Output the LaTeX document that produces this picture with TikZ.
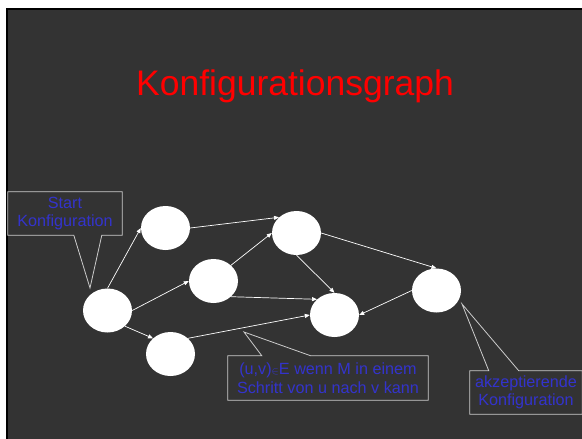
\documentclass[tikz,border=0pt]{standalone}
\usepackage{fontspec}
\setmainfont{Liberation Sans}
\usepackage{tikz}
\usetikzlibrary{arrows.meta,positioning,shapes.geometric,calc}
\definecolor{slidegray}{RGB}{51,51,51}
\definecolor{labelblue}{RGB}{51,51,204}
\definecolor{framegray}{RGB}{204,204,204}

\begin{document}
\begin{tikzpicture}[x=1pt,y=-1pt,
    konf/.style={ellipse,fill=white,inner sep=0pt,minimum width=49pt,minimum height=44pt},
    uebergang/.style={white,line width=0.7pt,-{Triangle[length=5pt,width=4pt]}},
    legende/.style={labelblue,align=center,inner sep=0pt,font=\fontsize{16.2}{18.5}\selectfont},
    rahmen/.style={framegray,line width=0.8pt,line join=miter}]
                \useasboundingbox (0,0) rectangle (582,439);
                \fill[white] (0,0) rectangle (582,439);
                \fill[black] (6,7.5) rectangle (582,439);
                \fill[slidegray] (8,10) rectangle (582,439);
                \node[red,font=\fontsize{35.5}{40}\selectfont,anchor=base] (titel) at (295,95) {Konfigurationsgraph};
                \node[konf] (K_0) at (107.5,310.5) {};
                \node[konf] (K_1) at (165.5,228) {};
                \node[konf] (K_2) at (213.5,281) {};
                \node[konf] (K_3) at (170.5,354) {};
                \node[konf] (K_4) at (296.5,233) {};
                \node[konf] (K_5) at (334.5,315) {};
                \node[konf] (K_acc) at (436.5,290.5) {};
                \draw[uebergang] (K_0.north) -- (K_1.west);
                \draw[uebergang] (K_0.east) -- (K_2.west);
                \draw[uebergang] (K_0.south east) -- (K_3.north west);
                \draw[uebergang] (K_1.east) -- (K_4.north west);
                \draw[uebergang] (K_2.north east) -- (K_4.west);
                \draw[uebergang] (K_2.south east) -- (K_5.north west);
                \draw[uebergang] (K_3.north east) -- (K_5.west);
                \draw[uebergang] (K_4.south) -- (K_5.north);
                \draw[uebergang] (K_4.east) -- (K_acc.north);
                \draw[uebergang] (K_acc.west) -- (K_5.east);
                \coordinate (startspitze) at (90,288);
                \coordinate (kantenspitze) at (244,332);
                \coordinate (accspitze) at (462,304);
                \node[legende,minimum width=114pt,minimum height=43pt] (startlegende) at (65,213.5) {Start\\Konfiguration};
                \node[legende,minimum width=200pt,minimum height=44pt] (kantenlegende) at (328,378) {(u,v){\fontsize{11}{11}\selectfont$\in$}E wenn M in einem\\Schritt von u nach v kann};
                \node[legende,minimum width=112pt,minimum height=43pt] (acclegende) at (526,392.5) {akzeptierende\\Konfiguration};
                \draw[rahmen] (startlegende.south west) -- (startlegende.north west) -- (startlegende.north east) -- (startlegende.south east) -- ($(startlegende.south west)+(94,0)$) -- (startspitze) -- ($(startlegende.south west)+(66,0)$) -- cycle;
                \draw[rahmen] (kantenlegende.north west) -- ($(kantenlegende.north west)+(34,0)$) -- (kantenspitze) -- ($(kantenlegende.north west)+(83,0)$) -- (kantenlegende.north east) -- (kantenlegende.south east) -- (kantenlegende.south west) -- cycle;
                \draw[rahmen] (acclegende.north west) -- ($(acclegende.north west)+(19,0)$) -- (accspitze) -- ($(acclegende.north west)+(49,0)$) -- (acclegende.north east) -- (acclegende.south east) -- (acclegende.south west) -- cycle;
            \end{tikzpicture}
\end{document}
